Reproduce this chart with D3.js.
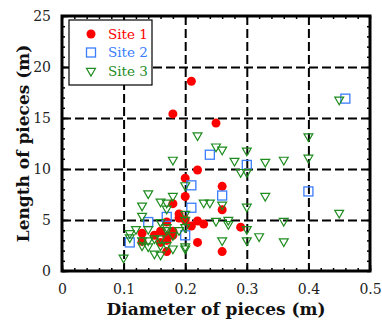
<!doctype html>
<html lang="en">
<head>
<meta charset="utf-8">
<title>Length vs diameter of pieces</title>
<script src="https://cdn.jsdelivr.net/npm/d3@7"></script>
<style>
  body { margin: 0; background: #fff; }
  svg text { font-family: "DejaVu Serif", "Liberation Serif", serif; }
  .tick text { font-size: 14px; fill: #222; }
  .grid line { stroke: #000; stroke-width: 2; stroke-dasharray: 9 4; }
  .grid .domain { display: none; }
  .ax .domain { display: none; }
  .ax line { stroke: #000; stroke-width: 1.5; }
  .title { font-size: 17px; font-weight: bold; fill: #111; }
  .leg { font-size: 13.5px; }
</style>
</head>
<body>
<svg width="382" height="320"></svg>
<script>
// values: [diameter (m), length (m)]
var site1 = [[0.21,18.6],[0.18,15.4],[0.25,14.5],[0.22,9.9],[0.20,9.1],[0.20,7.3],[0.26,8.3],
  [0.18,6.6],[0.26,6.0],[0.19,5.6],[0.19,5.2],[0.20,5.0],[0.22,4.9],[0.23,4.6],[0.21,4.4],
  [0.29,4.3],[0.17,4.8],[0.16,3.9],[0.18,3.9],[0.17,3.4],[0.18,3.5],[0.13,3.7],[0.13,2.9],
  [0.15,3.5],[0.16,2.8],[0.22,2.8],[0.17,1.9],[0.26,1.9],[0.17,3.0]];
var site2 = [[0.46,16.9],[0.24,11.4],[0.30,10.4],[0.21,8.4],[0.26,7.4],[0.21,6.2],[0.40,7.8],
  [0.17,5.3],[0.14,4.8],[0.20,3.5],[0.11,2.8]];
var site3 = [[0.45,16.8],[0.40,13.2],[0.22,13.3],[0.25,12.2],[0.26,11.9],[0.30,11.8],[0.18,10.9],
  [0.40,11.1],[0.36,10.9],[0.28,10.8],[0.33,10.7],[0.29,9.7],[0.30,9.7],[0.20,8.4],[0.14,7.6],
  [0.33,7.35],[0.18,7.35],[0.23,6.7],[0.24,6.7],[0.26,6.5],[0.30,6.3],[0.16,6.8],[0.17,6.7],
  [0.13,6.4],[0.17,6.1],[0.20,5.6],[0.45,5.7],[0.13,5.4],[0.16,4.8],[0.20,5.0],[0.25,4.9],
  [0.27,5.0],[0.27,4.6],[0.36,4.9],[0.11,3.7],[0.11,3.3],[0.12,4.1],[0.14,4.1],[0.17,4.0],
  [0.19,4.0],[0.20,4.3],[0.30,4.1],[0.13,3.0],[0.13,2.5],[0.14,3.0],[0.15,3.2],[0.16,3.2],
  [0.17,2.55],[0.18,3.5],[0.18,2.2],[0.14,2.4],[0.15,1.7],[0.16,1.6],[0.20,2.2],[0.20,2.4],
  [0.26,3.0],[0.30,3.0],[0.32,3.4],[0.36,2.9],[0.10,1.3],[0.16,2.5],[0.17,4.3]];
var seriesNames = ["Site 1", "Site 2", "Site 3"];
var seriesColors = ["#ff0000", "#3a7dff", "#1e8c1e"];
var xTicks = [0, 0.1, 0.2, 0.3, 0.4, 0.5];
var yTicks = [0, 5, 10, 15, 20, 25];

var margin = {left: 62, top: 16, right: 12, bottom: 49};
var svg = d3.select("svg");
var width = 382 - margin.left - margin.right;
var height = 320 - margin.top - margin.bottom;
var g = svg.append("g").attr("transform", "translate(" + margin.left + "," + margin.top + ")");

var x = d3.scaleLinear().domain([0, 0.5]).range([0, width]);
var y = d3.scaleLinear().domain([0, 25]).range([height, 0]);

// dashed grid
g.append("g").attr("class", "grid")
  .call(d3.axisBottom(x).tickValues(xTicks.slice(1, -1)).tickSize(height).tickFormat(""));
g.append("g").attr("class", "grid")
  .call(d3.axisLeft(y).tickValues(yTicks.slice(1, -1)).tickSize(-width).tickFormat(""));

// inward ticks on all four sides
var xMinor = d3.range(0, 0.5001, 0.02), yMinor = d3.range(0, 25.001, 1);
g.append("g").attr("class", "ax").attr("transform", "translate(0," + height + ")")
  .call(d3.axisBottom(x).tickValues(xTicks).tickSize(-6).tickPadding(13).tickFormat(d3.format("")));
g.append("g").attr("class", "ax").attr("transform", "translate(0," + height + ")")
  .call(d3.axisBottom(x).tickValues(xMinor).tickSize(-3).tickFormat(""));
g.append("g").attr("class", "ax")
  .call(d3.axisTop(x).tickValues(xMinor).tickSize(-3).tickFormat(""));
g.append("g").attr("class", "ax")
  .call(d3.axisLeft(y).tickValues(yTicks).tickSize(-6).tickPadding(11));
g.append("g").attr("class", "ax")
  .call(d3.axisLeft(y).tickValues(yMinor).tickSize(-3).tickFormat(""));
g.append("g").attr("class", "ax").attr("transform", "translate(" + width + ",0)")
  .call(d3.axisRight(y).tickValues(yMinor).tickSize(-3).tickFormat(""));

// frame
g.append("rect").attr("width", width).attr("height", height)
  .attr("fill", "none").attr("stroke", "#000").attr("stroke-width", 3);

// markers
var tri = d3.symbol().type(d3.symbolTriangle).size(34);
g.append("g").selectAll("circle").data(site1).enter().append("circle")
  .attr("cx", function(d) { return x(d[0]); })
  .attr("cy", function(d) { return y(d[1]); })
  .attr("r", 4.5).attr("fill", seriesColors[0]);
g.append("g").selectAll("rect").data(site2).enter().append("rect")
  .attr("x", function(d) { return x(d[0]) - 4.5; })
  .attr("y", function(d) { return y(d[1]) - 4.5; })
  .attr("width", 9).attr("height", 9)
  .attr("fill", "none").attr("stroke", seriesColors[1]).attr("stroke-width", 1.3);
g.append("g").selectAll("path").data(site3).enter().append("path")
  .attr("d", tri)
  .attr("transform", function(d) { return "translate(" + x(d[0]) + "," + y(d[1]) + ") rotate(180)"; })
  .attr("fill", "none").attr("stroke", seriesColors[2]).attr("stroke-width", 1.2);

// legend
var leg = g.append("g").attr("transform", "translate(7,4)");
leg.append("rect").attr("width", 83).attr("height", 65)
  .attr("fill", "#fff").attr("stroke", "#000").attr("stroke-width", 1.2);
var items = leg.selectAll(".li").data(seriesNames).enter().append("g")
  .attr("transform", function(d, i) { return "translate(0," + (14 + i * 18.5) + ")"; });
items.append("text").attr("class", "leg").attr("x", 39).attr("dy", "0.36em")
  .attr("fill", function(d, i) { return seriesColors[i]; })
  .text(function(d) { return d; });
items.each(function(d, i) {
  var s = d3.select(this);
  if (i === 0) s.append("circle").attr("cx", 22).attr("r", 4.5).attr("fill", seriesColors[0]);
  if (i === 1) s.append("rect").attr("x", 17.5).attr("y", -4.5).attr("width", 9).attr("height", 9)
    .attr("fill", "none").attr("stroke", seriesColors[1]).attr("stroke-width", 1.3);
  if (i === 2) s.append("path").attr("d", tri).attr("transform", "translate(22,0) rotate(180)")
    .attr("fill", "none").attr("stroke", seriesColors[2]).attr("stroke-width", 1.2);
});

// axis titles
svg.append("text").attr("class", "title").attr("text-anchor", "middle")
  .attr("x", margin.left + width / 2).attr("y", 315).text("Diameter of pieces (m)");
svg.append("text").attr("class", "title").attr("text-anchor", "middle")
  .attr("transform", "translate(29," + (margin.top + height / 2) + ") rotate(-90)")
  .text("Length of pieces (m)");
</script>
</body>
</html>
